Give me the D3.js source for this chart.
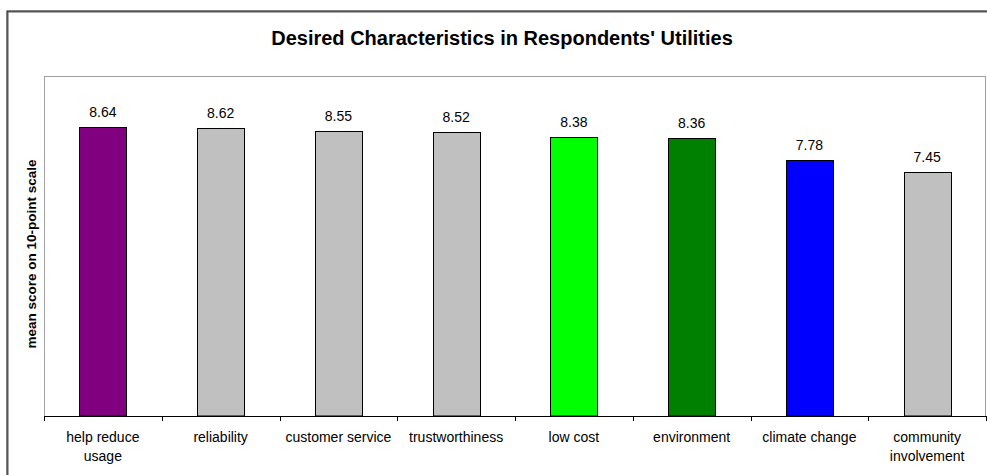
<!DOCTYPE html>
<html><head><meta charset="utf-8">
<script src="https://cdn.jsdelivr.net/npm/d3@7"></script>
<style>body{margin:0;background:#fff}svg{display:block;font-family:"Liberation Sans",Arial,sans-serif}</style>
</head><body>
<script>
const categories = [["help reduce","usage"],["reliability"],["customer service"],["trustworthiness"],["low cost"],["environment"],["climate change"],["community","involvement"]];
const values = [8.64, 8.62, 8.55, 8.52, 8.38, 8.36, 7.78, 7.45];
const colors = ["#800080","#c0c0c0","#c0c0c0","#c0c0c0","#00ff00","#008000","#0000ff","#c0c0c0"];
const title = "Desired Characteristics in Respondents' Utilities";
const yLabel = "mean score on 10-point scale";

const W = 987, H = 475;
const svg = d3.select("body").append("svg").attr("width", W).attr("height", H);
// outer border
svg.append("rect").attr("x", 8).attr("y", 12).attr("width", W + 10).attr("height", H + 10)
  .attr("fill", "none").attr("stroke", "#555").attr("stroke-width", 1);
svg.append("rect").attr("x", 7).attr("y", 11).attr("width", W + 10).attr("height", H + 10)
  .attr("fill", "none").attr("stroke", "#000").attr("stroke-width", 1);

const plot = {l: 44, t: 76, r: 986, b: 416};
const x = d3.scaleBand().domain(d3.range(values.length)).range([plot.l, plot.r]).paddingInner(0).paddingOuter(0);
const y = d3.scaleLinear().domain([1, 10]).range([plot.b, plot.t]);

// plot area frame
svg.append("rect").attr("x", plot.l + 0.5).attr("y", plot.t + 0.5)
  .attr("width", plot.r - plot.l - 1).attr("height", plot.b - plot.t)
  .attr("fill", "#fff").attr("stroke", "#a0a0a0").attr("stroke-width", 1);

svg.append("text").attr("x", 502).attr("y", 45).attr("text-anchor", "middle")
  .attr("font-weight", "bold").attr("font-size", 20).text(title);

const bw = x.bandwidth() * 0.4;
svg.selectAll("rect.bar").data(values).join("rect").attr("class", "bar")
  .attr("x", (d, i) => Math.round(x(i) + (x.bandwidth() - bw) / 2) + 0.5)
  .attr("y", d => Math.round(y(d)) + 0.5)
  .attr("width", Math.round(bw))
  .attr("height", d => plot.b - Math.round(y(d)) - 0.5)
  .attr("fill", (d, i) => colors[i]).attr("stroke", "#000").attr("stroke-width", 1);

svg.selectAll("text.val").data(values).join("text").attr("class", "val")
  .attr("x", (d, i) => x(i) + x.bandwidth() / 2)
  .attr("y", d => y(d) - 10)
  .attr("text-anchor", "middle").attr("font-size", 14).text(d => d.toFixed(2));

// x axis
const xAxis = svg.append("g");
xAxis.append("line").attr("x1", plot.l).attr("x2", plot.r).attr("y1", plot.b + 0.5).attr("y2", plot.b + 0.5)
  .attr("stroke", "#000");
const tickPos = d3.range(values.length + 1).map(i => i < values.length ? x(i) : x(values.length - 1) + x.bandwidth());
xAxis.selectAll("line.tk").data(tickPos).join("line").attr("class", "tk")
  .attr("x1", d => Math.round(d) + 0.5).attr("x2", d => Math.round(d) + 0.5)
  .attr("y1", plot.b).attr("y2", plot.b + 5).attr("stroke", "#000");
const labels = xAxis.selectAll("text.cat").data(categories).join("text").attr("class", "cat")
  .attr("text-anchor", "middle").attr("font-size", 14)
  .attr("x", (d, i) => x(i) + x.bandwidth() / 2).attr("y", 442);
labels.selectAll("tspan").data(d => d).join("tspan")
  .attr("x", function() { return d3.select(this.parentNode).attr("x"); })
  .attr("dy", (d, i) => i === 0 ? 0 : 19).text(d => d);

svg.append("text").attr("transform", `translate(36,${(plot.t + plot.b) / 2 + 8}) rotate(-90)`)
  .attr("text-anchor", "middle").attr("font-weight", "bold").attr("font-size", 13.5).text(yLabel);
</script>
</body></html>
